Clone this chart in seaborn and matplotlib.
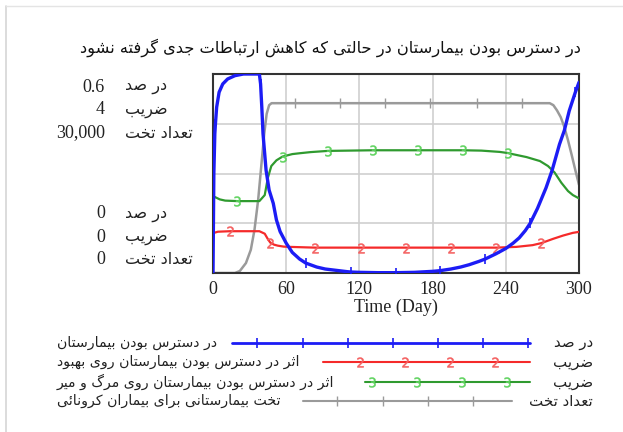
import numpy as np
import pandas as pd
import matplotlib
matplotlib.use("Agg")
import matplotlib.pyplot as plt
from matplotlib.lines import Line2D
import seaborn as sns

# ---------------------------------------------------------------- data
title = "در دسترس بودن بیمارستان در حالتی که کاهش ارتباطات جدی گرفته نشود"
x_label = "Time (Day)"
x_ticks = [0, 60, 120, 180, 240, 300]

unit_pct = "در صد"
unit_coef = "ضریب"
unit_beds = "تعداد تخت"

name_pct = "در دسترس بودن بیمارستان"
name_recov = "اثر در دسترس بودن بیمارستان روی بهبود"
name_mort = "اثر در دسترس بودن بیمارستان روی مرگ و میر"
name_beds = "تخت بیمارستانی برای بیماران کرونائی"

pct_range = (0, 0.6)
coef_range = (0, 4)
beds_range = (0, 30000)

pct_days = [0, 0.7, 1.5, 2, 3, 5, 8, 12, 18, 25, 32, 38, 39, 40, 41, 43.5, 46,
            49.4, 52, 55, 60, 65, 71, 76, 85, 92, 101, 110, 113, 120, 135, 150,
            165, 180, 186, 195, 203, 210, 218, 223, 232, 240, 246, 251, 256,
            260, 266, 273, 278, 284, 288, 292, 297, 300]
pct_vals = [0, 0.30, 0.42, 0.45, 0.50, 0.545, 0.57, 0.585, 0.595, 0.6, 0.6, 0.6,
            0.57, 0.50, 0.42, 0.31, 0.25, 0.21, 0.16, 0.125, 0.09, 0.062, 0.042,
            0.03, 0.018, 0.012, 0.008, 0.004, 0.003, 0.002, 0.001, 0.001, 0.002,
            0.005, 0.007, 0.012, 0.018, 0.025, 0.035, 0.042, 0.058, 0.074, 0.09,
            0.106, 0.128, 0.15, 0.195, 0.257, 0.31, 0.388, 0.43, 0.489, 0.545,
            0.575]
pct_marks = [2, 39, 76, 113, 150, 186, 223, 260, 297]

recov_days = [0, 4, 14, 25, 38, 42.4, 45, 47, 50, 53, 58, 63, 76.5, 84, 121,
              158, 195, 232, 248.6, 262, 269, 278.7, 287, 295, 300]
recov_vals = [0.80, 0.83, 0.84, 0.84, 0.84, 0.79, 0.68, 0.61, 0.57, 0.55, 0.53,
              0.525, 0.515, 0.51, 0.51, 0.51, 0.51, 0.51, 0.525, 0.56, 0.60,
              0.686, 0.753, 0.807, 0.827]
recov_marks = [14, 47, 84, 121, 158, 195, 232, 269]

mort_days = [0, 5.5, 10, 20, 30, 38, 42.4, 45, 47.8, 52, 57, 65, 71, 80, 94,
             131, 168, 205, 220, 235, 242, 246, 257, 268, 274.6, 280, 285.5,
             291, 295, 300]
mort_vals = [1.546, 1.48, 1.455, 1.445, 1.445, 1.445, 1.566, 1.916, 2.15, 2.265,
             2.34, 2.39, 2.407, 2.43, 2.454, 2.467, 2.467, 2.467, 2.46, 2.434,
             2.41, 2.387, 2.33, 2.25, 2.15, 2.02, 1.815, 1.647, 1.566, 1.5]
mort_marks = [20, 57, 94, 131, 168, 205, 242]

beds_days = [0, 10, 18, 22, 27, 31, 34, 37, 40, 42, 44, 46, 48, 67, 104, 141,
             178, 216, 253, 276, 279, 282, 285, 288, 291, 294, 297, 300]
beds_vals = [0, 0, 0, 300, 1500, 3500, 6500, 11000, 17000, 21000, 24000, 25300,
             25600, 25600, 25600, 25600, 25600, 25600, 25600, 25600, 25300,
             24500, 23500, 22000, 20000, 17800, 15500, 13300]
beds_marks = [67, 104, 141, 178, 216, 253]

# ---------------------------------------------------------------- text shaping
# contextual forms: isolated, final, initial, medial (None = no left join)
FORMS = {
    "\u0627": ("\uFE8D", "\uFE8E", None, None),
    "\u0628": ("\uFE8F", "\uFE90", "\uFE91", "\uFE92"),
    "\u062A": ("\uFE95", "\uFE96", "\uFE97", "\uFE98"),
    "\u062B": ("\uFE99", "\uFE9A", "\uFE9B", "\uFE9C"),
    "\u062C": ("\uFE9D", "\uFE9E", "\uFE9F", "\uFEA0"),
    "\u062D": ("\uFEA1", "\uFEA2", "\uFEA3", "\uFEA4"),
    "\u062E": ("\uFEA5", "\uFEA6", "\uFEA7", "\uFEA8"),
    "\u062F": ("\uFEA9", "\uFEAA", None, None),
    "\u0631": ("\uFEAD", "\uFEAE", None, None),
    "\u0633": ("\uFEB1", "\uFEB2", "\uFEB3", "\uFEB4"),
    "\u0634": ("\uFEB5", "\uFEB6", "\uFEB7", "\uFEB8"),
    "\u0635": ("\uFEB9", "\uFEBA", "\uFEBB", "\uFEBC"),
    "\u0636": ("\uFEBD", "\uFEBE", "\uFEBF", "\uFEC0"),
    "\u0637": ("\uFEC1", "\uFEC2", "\uFEC3", "\uFEC4"),
    "\u0639": ("\uFEC9", "\uFECA", "\uFECB", "\uFECC"),
    "\u0641": ("\uFED1", "\uFED2", "\uFED3", "\uFED4"),
    "\u0644": ("\uFEDD", "\uFEDE", "\uFEDF", "\uFEE0"),
    "\u0645": ("\uFEE1", "\uFEE2", "\uFEE3", "\uFEE4"),
    "\u0646": ("\uFEE5", "\uFEE6", "\uFEE7", "\uFEE8"),
    "\u0647": ("\uFEE9", "\uFEEA", "\uFEEB", "\uFEEC"),
    "\u0648": ("\uFEED", "\uFEEE", None, None),
    "\u0626": ("\uFE89", "\uFE8A", "\uFE8B", "\uFE8C"),
    "\u06CC": ("\uFBFC", "\uFBFD", "\uFBFE", "\uFBFF"),
    "\u06A9": ("\uFB8E", "\uFB8F", "\uFB90", "\uFB91"),
    "\u06AF": ("\uFB92", "\uFB93", "\uFB94", "\uFB95"),
}


def rtl(s):
    out = []
    for i, c in enumerate(s):
        if c not in FORMS:
            out.append(c)
            continue
        iso, fin, ini, med = FORMS[c]
        prev = s[i - 1] if i > 0 else None
        nxt = s[i + 1] if i + 1 < len(s) else None
        jp = prev in FORMS and FORMS[prev][2] is not None
        jn = ini is not None and nxt in FORMS
        out.append(med if (jp and jn) else fin if jp else ini if jn else iso)
    return "".join(reversed(out))


# ---------------------------------------------------------------- style
sns.set_style("white")
plt.rcParams["font.family"] = ["Liberation Serif", "DejaVu Sans"]
AR = "DejaVu Sans"
SERIF = "Liberation Serif"

W, H = 623, 432
fig = plt.figure(figsize=(W / 100, H / 100), dpi=100)


def fx(px):
    return px / W


def fy(py):
    return 1 - py / H


BLUE = "#1c1cf5"
RED = "#f52a2a"
RED_M = "#f46060"
GREEN = "#2f9a2f"
GREEN_M = "#5fd35f"
GRAY = "#9a9a9a"
INK = "#222222"

L, R, T, B = 213, 579, 74, 273
ax_beds = fig.add_axes([fx(L), fy(B), fx(R - L), (B - T) / H])
ax_coef = ax_beds.twinx()
ax_pct = ax_beds.twinx()

ax_beds.set_xlim(0, 300)
ax_beds.set_ylim(*beds_range)
ax_coef.set_ylim(*coef_range)
ax_pct.set_ylim(*pct_range)


def idx(days, marks):
    return [days.index(m) for m in marks]


df_beds = pd.DataFrame({"day": beds_days, "v": beds_vals})
df_recov = pd.DataFrame({"day": recov_days, "v": recov_vals})
df_mort = pd.DataFrame({"day": mort_days, "v": mort_vals})
df_pct = pd.DataFrame({"day": pct_days, "v": pct_vals})

sns.lineplot(data=df_beds, x="day", y="v", ax=ax_beds, color=GRAY, lw=1.8,
             marker="|", markersize=7, markeredgewidth=1.0,
             markeredgecolor=GRAY, markevery=idx(beds_days, beds_marks))
sns.lineplot(data=df_mort, x="day", y="v", ax=ax_coef, color=GREEN, lw=1.6,
             marker="$3$", markersize=7, markeredgewidth=0.4,
             markerfacecolor=GREEN_M, markeredgecolor=GREEN_M,
             markevery=idx(mort_days, mort_marks))
sns.lineplot(data=df_recov, x="day", y="v", ax=ax_coef, color=RED, lw=1.6,
             marker="$2$", markersize=7, markeredgewidth=0.4,
             markerfacecolor=RED_M, markeredgecolor=RED_M,
             markevery=idx(recov_days, recov_marks))
sns.lineplot(data=df_pct, x="day", y="v", ax=ax_pct, color=BLUE, lw=2.4,
             marker="|", markersize=7, markeredgewidth=1.2,
             markeredgecolor=BLUE, markevery=idx(pct_days, pct_marks))

for a in (ax_coef, ax_pct):
    a.set_yticks([])
    a.set_ylabel("")
    a.set_xlabel("")
    for sp in a.spines.values():
        sp.set_visible(False)

ax_beds.set_xticks(x_ticks)
ax_beds.set_yticks(np.linspace(*beds_range, 5))
ax_beds.set_yticklabels([])
ax_beds.set_ylabel("")
ax_beds.grid(True, color="#cfcfcf", lw=1.2)
ax_beds.tick_params(length=0, pad=6)
for lab in ax_beds.get_xticklabels():
    lab.set_fontfamily(SERIF)
    lab.set_fontsize(13)
    lab.set_color(INK)
for sp in ax_beds.spines.values():
    sp.set_color("#333333")
    sp.set_linewidth(1.5)
    sp.set_zorder(10)
ax_beds.set_xlabel(x_label, fontfamily=SERIF, fontsize=13, color=INK,
                   labelpad=0)

# ---------------------------------------------------------------- scale labels
num_kw = dict(fontfamily=SERIF, fontsize=13, color=INK, ha="right",
              va="center")
unit_kw = dict(fontfamily=AR, fontsize=11.5, color=INK, ha="left",
               va="center")


def fmt(v):
    if float(v).is_integer():
        return f"{int(v):,}"
    return f"{v:g}"


top_rows = [(87, pct_range[1], unit_pct), (110, coef_range[1], unit_coef),
            (133, beds_range[1], unit_beds)]
bot_rows = [(214, pct_range[0], unit_pct), (237, coef_range[0], unit_coef),
            (260, beds_range[0], unit_beds)]
for y, v, u in top_rows + bot_rows:
    fig.text(fx(105), fy(y), fmt(v), **num_kw)
    fig.text(fx(125), fy(y), rtl(u), **unit_kw)

# ---------------------------------------------------------------- title
fig.text(fx(330), fy(48), rtl(title), fontfamily=AR, fontsize=11.7,
         color="#111111", ha="center", va="center")

# ---------------------------------------------------------------- legend
leg_rows = [
    (343, name_pct, unit_pct, BLUE, 2.0, 232, 530, "|", BLUE, 1.2,
     [257, 303, 348, 393, 438, 483, 528]),
    (362, name_recov, unit_coef, RED, 1.5, 323, 530, "$2$", RED_M, 0.4,
     [360, 405, 450, 495]),
    (382, name_mort, unit_coef, GREEN, 1.5, 365, 530, "$3$", GREEN_M, 0.4,
     [372, 417, 462, 507]),
    (401, name_beds, unit_beds, GRAY, 1.5, 303, 512, "|", GRAY, 1.0,
     [337, 383, 428, 473]),
]
for y, name, unit, col, lw, x0, x1, mk, mcol, mew, mxs in leg_rows:
    fig.text(fx(57), fy(y), rtl(name), fontfamily=AR, fontsize=10.2,
             color=INK, ha="left", va="center")
    fig.text(fx(593), fy(y), rtl(unit), fontfamily=AR, fontsize=10.8,
             color=INK, ha="right", va="center")
    fig.add_artist(Line2D([fx(x0), fx(x1)], [fy(y), fy(y)], color=col, lw=lw,
                          transform=fig.transFigure))
    fig.add_artist(Line2D([fx(m) for m in mxs], [fy(y)] * len(mxs),
                          linestyle="none", marker=mk, markersize=7,
                          markeredgewidth=mew, color=mcol,
                          markeredgecolor=mcol, markerfacecolor=mcol,
                          transform=fig.transFigure))

# page edge
fig.add_artist(Line2D([fx(6), fx(6)], [fy(6), 0], color="#d6d6d6", lw=1.2,
                      transform=fig.transFigure))
fig.add_artist(Line2D([fx(6), 1], [fy(6), fy(6)], color="#e4e4e4", lw=1.0,
                      transform=fig.transFigure))

fig.savefig("out.png", dpi=100)
